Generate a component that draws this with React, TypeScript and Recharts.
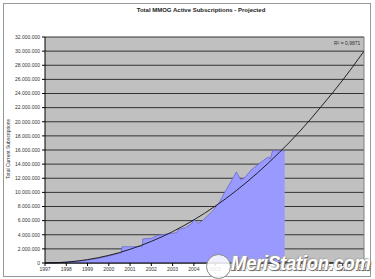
import React from "react";
import {
  ComposedChart,
  Area,
  Line,
  XAxis,
  YAxis,
  CartesianGrid,
  ReferenceLine,
} from "recharts";

// x axis years
const years = [
  1997, 1998, 1999, 2000, 2001, 2002, 2003, 2004, 2005, 2006, 2007, 2008,
  2009, 2010, 2011, 2012,
];

const yTicks = [
  0, 2000000, 4000000, 6000000, 8000000, 10000000, 12000000, 14000000,
  16000000, 18000000, 20000000, 22000000, 24000000, 26000000, 28000000,
  30000000, 32000000,
];

const actualYears = [
  1997.3, 1997.6, 1998.0, 1998.5, 1999.0, 1999.5, 2000.0, 2000.3, 2000.6,
  2000.62, 2001.0, 2001.58, 2001.6, 2002.0, 2002.3, 2002.7, 2003.2, 2003.25,
  2003.6, 2003.9, 2004.0, 2004.2, 2004.4, 2004.9, 2005.2, 2005.45, 2005.78,
  2006.0, 2006.2, 2006.4, 2006.7, 2007.3, 2007.5, 2007.6, 2007.7, 2008.27,
];
const actualSubs = [
  0, 50000, 120000, 250000, 400000, 650000, 1000000, 1200000, 1450000,
  2300000, 2300000, 2350000, 3400000, 3500000, 3900000, 4100000, 4300000,
  4700000, 5000000, 5600000, 6200000, 5600000, 6000000, 7400000, 8600000,
  10000000, 11700000, 12900000, 11800000, 12100000, 13200000, 14600000,
  15000000, 14800000, 15900000, 15900000,
];

// projected trend line, one value per year
const trendSubs = [
  0, 120000, 480000, 1080000, 1940000, 3060000, 4440000, 6100000, 8040000,
  10260000, 12780000, 15600000, 18700000, 22200000, 25900000, 30000000,
];

const actualData = actualYears.map((year, i) => ({ year, subs: actualSubs[i] }));
const trendData = years.map((year, i) => ({ year, trend: trendSubs[i] }));

const fmt = (v: number) =>
  v.toString().replace(/\B(?=(\d{3})+(?!\d))/g, ".");

const font = "'Liberation Sans', Arial, sans-serif";

export default function App() {
  return (
    <div
      style={{
        position: "absolute",
        left: 0,
        top: 0,
        width: 375,
        height: 279,
        background: "#fff",
        fontFamily: font,
        overflow: "hidden",
      }}
    >
      <div
        style={{
          position: "absolute",
          left: 3,
          top: 3,
          width: 366,
          height: 272,
          border: "1px solid #999",
        }}
      />
      <div
        style={{
          position: "absolute",
          left: 0,
          width: 402,
          top: 7,
          textAlign: "center",
          fontSize: 6,
          fontWeight: "bold",
          color: "#222",
        }}
      >
        Total MMOG Active Subscriptions - Projected
      </div>
      <div
        style={{
          position: "absolute",
          left: -27,
          top: 146,
          width: 70,
          textAlign: "center",
          fontSize: 5,
          color: "#333",
          transform: "rotate(-90deg)",
          whiteSpace: "nowrap",
        }}
      >
        Total Current Subscriptions
      </div>
      <ComposedChart
        width={375}
        height={279}
        margin={{ top: 37, right: 11, bottom: 0, left: 0 }}
        style={{ position: "absolute", left: 0, top: 0 }}
      >
        <CartesianGrid
          vertical={false}
          fill="#c0c0c0"
          stroke="#333"
          strokeWidth={1}
        />
        <XAxis
          type="number"
          dataKey="year"
          domain={[1997, 2012]}
          ticks={years}
          allowDataOverflow
          height={16}
          tickSize={3}
          tickMargin={1}
          interval={0}
          stroke="#000"
          tick={{ fontSize: 5, fill: "#333", fontFamily: font }}
        />
        <YAxis
          type="number"
          domain={[0, 32000000]}
          ticks={yTicks}
          width={45}
          tickSize={3}
          tickMargin={2}
          interval={0}
          stroke="#000"
          tickFormatter={fmt}
          tick={{ fontSize: 5, fill: "#333", fontFamily: font }}
        />
        <ReferenceLine x={2012} stroke="#808080" />
        <Area
          data={actualData}
          dataKey="subs"
          type="linear"
          fill="#9999ff"
          fillOpacity={1}
          stroke="#6a6acc"
          strokeWidth={0.8}
          isAnimationActive={false}
        />
        <Line
          data={trendData}
          dataKey="trend"
          type="monotone"
          stroke="#111"
          strokeWidth={0.9}
          dot={false}
          isAnimationActive={false}
        />
      </ComposedChart>
      <div
        style={{
          position: "absolute",
          left: 334,
          top: 40,
          fontSize: 5,
          color: "#333",
        }}
      >
        R² = 0,9871
      </div>
      <div
        style={{
          position: "absolute",
          left: 206,
          top: 254,
          width: 23,
          height: 23,
          borderRadius: "50%",
          background: "rgba(255,255,255,0.85)",
          border: "1px solid #888",
        }}
      />
      <div
        style={{
          position: "absolute",
          left: 231,
          top: 251,
          fontSize: 21,
          fontWeight: "bold",
          fontStyle: "italic",
          color: "#fff",
          letterSpacing: -0.3,
          transform: "scaleX(0.88)",
          transformOrigin: "left top",
          textShadow: "1px 1px 1px #666, -1px -1px 1px #aaa",
          whiteSpace: "nowrap",
        }}
      >
        MeriStation.com
      </div>
    </div>
  );
}
